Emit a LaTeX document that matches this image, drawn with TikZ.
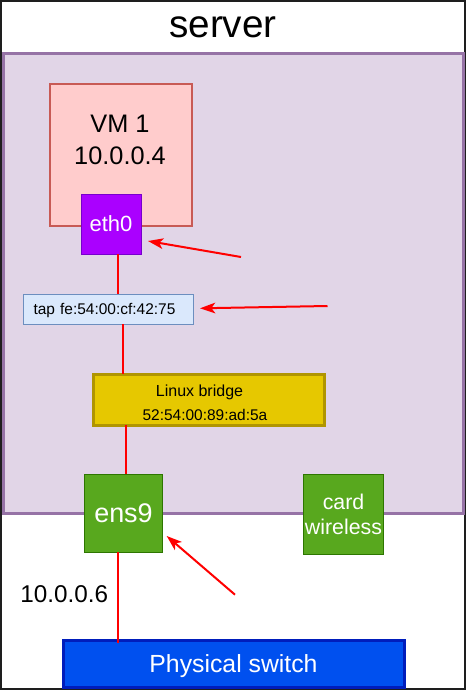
\documentclass[tikz,border=0pt]{standalone}
\usepackage{fontspec}
\setmainfont{Liberation Sans}
\usetikzlibrary{arrows.meta,calc}
\definecolor{hostfill}{HTML}{E1D5E7}
\definecolor{hoststroke}{HTML}{9673A6}
\definecolor{vmfill}{HTML}{FFCCCC}
\definecolor{vmstroke}{HTML}{C85A55}
\definecolor{ethfill}{HTML}{AA00FF}
\definecolor{ethstroke}{HTML}{7700CC}
\definecolor{tapfill}{HTML}{DAE8FC}
\definecolor{tapstroke}{HTML}{6C8EBF}
\definecolor{brfill}{HTML}{E6C800}
\definecolor{brstroke}{HTML}{B09500}
\definecolor{grfill}{HTML}{58A81E}
\definecolor{grstroke}{HTML}{2D7600}
\definecolor{swfill}{HTML}{0050EF}
\definecolor{swstroke}{HTML}{001DBC}
\definecolor{frame}{HTML}{1E1E1E}
\begin{document}
\begin{tikzpicture}[x=0.75pt,y=-0.75pt,
  box/.style={rectangle,outer sep=0pt,inner sep=0pt},
  wire/.style={draw=red,line width=1.5pt},
  pointer/.style={draw=red,line width=1.5pt,-{Stealth[length=11.5pt,width=8pt,inset=3pt]}},
  lbl/.style={anchor=base,inner sep=0pt}]
\useasboundingbox (0,0) rectangle (466,690);
\fill[white] (0,0) rectangle (466,690);
% outer frame
\draw[frame,line width=1.5pt] (1,1) rectangle (465,689);
\node[lbl,font=\fontsize{29pt}{35pt}\selectfont] (title) at (223,37) {server};
% host area
\node[box,fill=hostfill,draw=hoststroke,line width=2.25pt,minimum width=345pt,minimum height=345pt] (host) at (233.5,283) {};
% VM
\node[box,fill=vmfill,draw=vmstroke,line width=1.5pt,minimum width=106.5pt,minimum height=106.5pt] (vm) at (121,155) {};
\node[inner sep=0pt,align=center,text depth=0pt,font=\fontsize{19pt}{24pt}\selectfont] (vmtext) at (120,140) {VM 1\\10.0.0.4};
% eth0
\node[box,fill=ethfill,draw=ethstroke,line width=0.75pt,minimum width=45pt,minimum height=45pt,text=white,text depth=0pt,font=\fontsize{16.5pt}{20pt}\selectfont] (eth0) at (111,224) {eth0};
% tap
\node[box,fill=tapfill,draw=tapstroke,line width=0.75pt,minimum height=22.5pt,inner xsep=7.9pt,text width=111.7pt,align=left,text depth=0pt,font=\fontsize{11.6pt}{14pt}\selectfont] (tap) at (108,309) {tap fe:54:00:cf:42:75};
% bridge
\node[box,fill=brfill,draw=brstroke,line width=2.25pt,minimum width=173.25pt,minimum height=38.25pt] (bridge) at (208.5,399.5) {};
\node[lbl,font=\fontsize{12pt}{14pt}\selectfont] (brname) at (199.5,396) {Linux bridge};
\node[lbl,font=\fontsize{11.6pt}{14pt}\selectfont] (brmac) at (205,420) {52:54:00:89:ad:5a};
% ens9
\node[box,fill=grfill,draw=grstroke,line width=0.75pt,minimum width=58.5pt,minimum height=58.5pt,text=white,text depth=0pt,font=\fontsize{20.2pt}{24pt}\selectfont] (ens9) at (123.5,513.3) {ens9};
% wireless
\node[box,fill=grfill,draw=grstroke,line width=0.75pt,minimum width=60pt,minimum height=60pt,text=white,align=center,text depth=0pt,font=\fontsize{16pt}{18.75pt}\selectfont] (wifi) at (343.5,514.3) {card\\wireless};
% physical switch
\node[box,fill=swfill,draw=swstroke,line width=2.25pt,minimum width=255.75pt,minimum height=35.25pt,text=white,text depth=0pt,font=\fontsize{18.6pt}{22pt}\selectfont] (sw) at (233.5,663.5) {Physical switch};
\node[lbl,font=\fontsize{18.2pt}{22pt}\selectfont] (ip) at (64.2,602) {10.0.0.6};
% wires
\path ($(eth0.south)+(7.3,0)$) coordinate (w1);
\draw[wire] (w1) -- (w1 |- tap.north);
\path ($(tap.south)+(15.3,0)$) coordinate (w2);
\draw[wire] (w2) -- (w2 |- bridge.north);
\path ($(bridge.south)+(-82.5,0)$) coordinate (w3);
\draw[wire] (w3) -- (w3 |- ens9.north);
\path ($(ens9.south)+(-5.2,0)$) coordinate (w4);
\draw[wire] (w4) -- ($(w4 |- sw.north)+(0,2.5)$);
% pointers
\coordinate (p1s) at (241,257);
\coordinate (p1e) at (148,241);
\coordinate (p2s) at (327.5,306);
\coordinate (p2e) at (200,308.3);
\coordinate (p3s) at (235,594.7);
\coordinate (p3e) at (166.7,536);
\draw[pointer] (p1s) -- (p1e);
\draw[pointer] (p2s) -- (p2e);
\draw[pointer] (p3s) -- (p3e);
\end{tikzpicture}
\end{document}
